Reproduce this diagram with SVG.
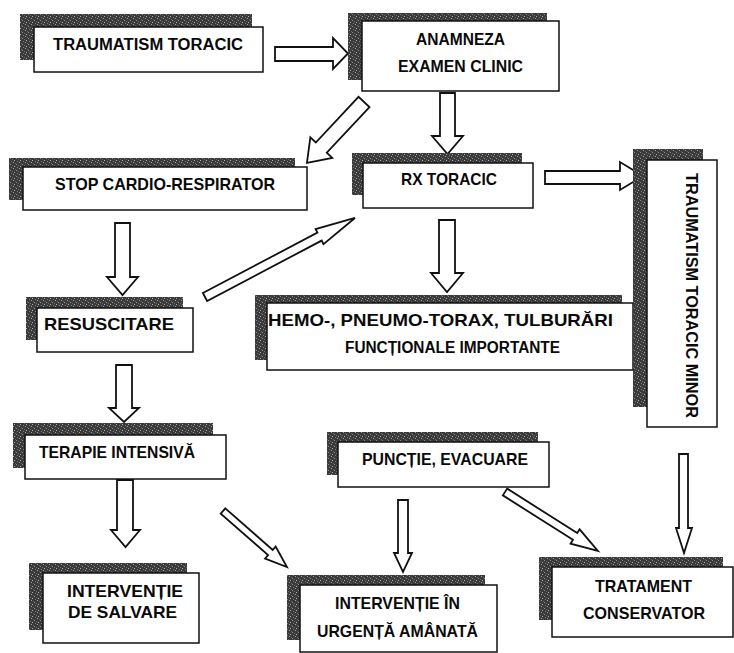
<svg xmlns="http://www.w3.org/2000/svg" width="734" height="653" viewBox="0 0 734 653">
<defs>
<pattern id="spk" width="6" height="6" patternUnits="userSpaceOnUse">
<rect width="6" height="6" fill="#3a3a3a"/>
<rect x="1" y="0" width="1" height="1" fill="#a0a0a0"/>
<rect x="4" y="2" width="1" height="1" fill="#8c8c8c"/>
<rect x="2" y="4" width="1" height="1" fill="#b0b0b0"/>
<rect x="5" y="5" width="1" height="1" fill="#7a7a7a"/>
<rect x="0" y="3" width="1" height="1" fill="#6a6a6a"/>
<rect x="3" y="1" width="1" height="1" fill="#606060"/>
</pattern>
<style>
.sh{fill:url(#spk);}
.bx{fill:#fff;stroke:#111;stroke-width:1.5;}
.t{font-family:"Liberation Sans",Arial,Helvetica,sans-serif;font-weight:bold;font-size:17px;fill:#0a0a0a;}
.ar{fill:#fff;stroke:#111;stroke-width:1.8;stroke-linejoin:miter;}
</style>
</defs>
<rect width="734" height="653" fill="#fff"/>

<g id="connectors">
<polygon class="ar" points="275,47 333,47 333,38 348,53.5 333,69 333,61 275,61"/>
<polygon class="ar" points="440,93 455,93 455,136 463,136 447.5,154 432,136 440,136"/>
<polygon class="ar" transform="translate(364,102) rotate(133.1)" points="0,-7.5 62.5,-7.5 62.5,-15 83.5,0 62.5,15 62.5,7.5 0,7.5"/>
<polygon class="ar" points="545,171 620,171 620,162 643,176 620,190 620,184 545,184"/>
<polygon class="ar" points="439,220 455,220 455,273 463,273 447,292 431,273 439,273"/>
<polygon class="ar" points="115,223 130,223 130,277 138,277 122.5,295 107,277 115,277"/>
<polygon class="ar" transform="translate(205,297) rotate(-27.8)" points="0,-4.5 129.5,-4.5 129.5,-8.5 169.5,0 129.5,8.5 129.5,4.5 0,4.5"/>
<polygon class="ar" points="116,365 132,365 132,408 139,408 124,422 109,408 116,408"/>
<polygon class="ar" points="117,480 133,480 133,530 140,530 125.5,547 111,530 117,530"/>
<polygon class="ar" transform="translate(223,511) rotate(41.2)" points="0,-3.5 63,-3.5 63,-8 85,0 63,8 63,3.5 0,3.5"/>
<polygon class="ar" points="398,500 408,500 408,553 412,553 403,572 394,553 398,553"/>
<polygon class="ar" transform="translate(505,492) rotate(32.4)" points="0,-4 83,-4 83,-8.5 110,0 83,8.5 83,4 0,4"/>
<polygon class="ar" points="679,454 688,454 688,528 692,528 684,553 676,528 679,528"/>
</g>

<g id="n1">
<rect class="sh" x="20" y="14" width="232" height="46"/>
<rect class="bx" x="34" y="27" width="229" height="45"/>
<text class="t" style="font-size:16px" x="53" y="50" textLength="190" lengthAdjust="spacingAndGlyphs">TRAUMATISM TORACIC</text>
</g>

<g id="n2">
<rect class="sh" x="348" y="13" width="199" height="67"/>
<rect class="bx" x="362" y="21" width="197" height="70"/>
<text class="t" x="416" y="45" textLength="89" lengthAdjust="spacingAndGlyphs">ANAMNEZA</text>
<text class="t" x="398" y="72" textLength="125" lengthAdjust="spacingAndGlyphs">EXAMEN CLINIC</text>
</g>

<g id="n3">
<rect class="sh" x="9" y="158" width="286" height="42"/>
<rect class="bx" x="23" y="167" width="284" height="43"/>
<text class="t" x="55" y="190" textLength="220" lengthAdjust="spacingAndGlyphs">STOP CARDIO-RESPIRATOR</text>
</g>

<g id="n4">
<rect class="sh" x="352" y="153" width="170" height="42"/>
<rect class="bx" x="363" y="163" width="170" height="45"/>
<text class="t" x="401" y="185" textLength="96" lengthAdjust="spacingAndGlyphs">RX TORACIC</text>
</g>

<g id="n6">
<rect class="sh" x="255" y="295" width="367" height="65"/>
<rect class="bx" x="267" y="303" width="366" height="67"/>
<text class="t" x="268" y="326" textLength="345" lengthAdjust="spacingAndGlyphs">HEMO-, PNEUMO-TORAX,  TULBURĂRI</text>
<text class="t" style="font-size:16px" x="345" y="353" textLength="215" lengthAdjust="spacingAndGlyphs">FUNCȚIONALE IMPORTANTE</text>
</g>

<g id="n5">
<rect class="sh" x="633" y="149" width="70" height="258"/>
<rect class="bx" x="647" y="160" width="70" height="267"/>
<text class="t" transform="translate(686,173) rotate(90)" x="0" y="0" textLength="245" lengthAdjust="spacingAndGlyphs">TRAUMATISM TORACIC MINOR</text>
</g>

<g id="n7">
<rect class="sh" x="26" y="297" width="157" height="43"/>
<rect class="bx" x="37" y="308" width="156" height="44"/>
<text class="t" x="44" y="330" textLength="130" lengthAdjust="spacingAndGlyphs">RESUSCITARE</text>
</g>

<g id="n8">
<rect class="sh" x="13" y="423" width="200" height="45"/>
<rect class="bx" x="25" y="435" width="201" height="44"/>
<text class="t" x="39" y="458" textLength="156" lengthAdjust="spacingAndGlyphs">TERAPIE INTENSIVĂ</text>
</g>

<g id="n9">
<rect class="sh" x="327" y="432" width="211" height="43"/>
<rect class="bx" x="338" y="442" width="211" height="45"/>
<text class="t" x="362" y="465" textLength="166" lengthAdjust="spacingAndGlyphs">PUNCȚIE, EVACUARE</text>
</g>

<g id="n10">
<rect class="sh" x="29" y="563" width="158" height="67"/>
<rect class="bx" x="43" y="573" width="156" height="70"/>
<text class="t" x="67" y="597" textLength="116" lengthAdjust="spacingAndGlyphs">INTERVENȚIE</text>
<text class="t" x="68" y="618" textLength="109" lengthAdjust="spacingAndGlyphs">DE SALVARE</text>
</g>

<g id="n11">
<rect class="sh" x="287" y="575" width="198" height="65"/>
<rect class="bx" x="300" y="585" width="197" height="67"/>
<text class="t" x="335" y="609" textLength="125" lengthAdjust="spacingAndGlyphs">INTERVENȚIE ÎN</text>
<text class="t" x="317" y="637" textLength="161" lengthAdjust="spacingAndGlyphs">URGENȚĂ AMÂNATĂ</text>
</g>

<g id="n12">
<rect class="sh" x="539" y="557" width="184" height="63"/>
<rect class="bx" x="552" y="567" width="181" height="70"/>
<text class="t" x="595" y="592" textLength="97" lengthAdjust="spacingAndGlyphs">TRATAMENT</text>
<text class="t" x="583" y="619" textLength="122" lengthAdjust="spacingAndGlyphs">CONSERVATOR</text>
</g>
</svg>
